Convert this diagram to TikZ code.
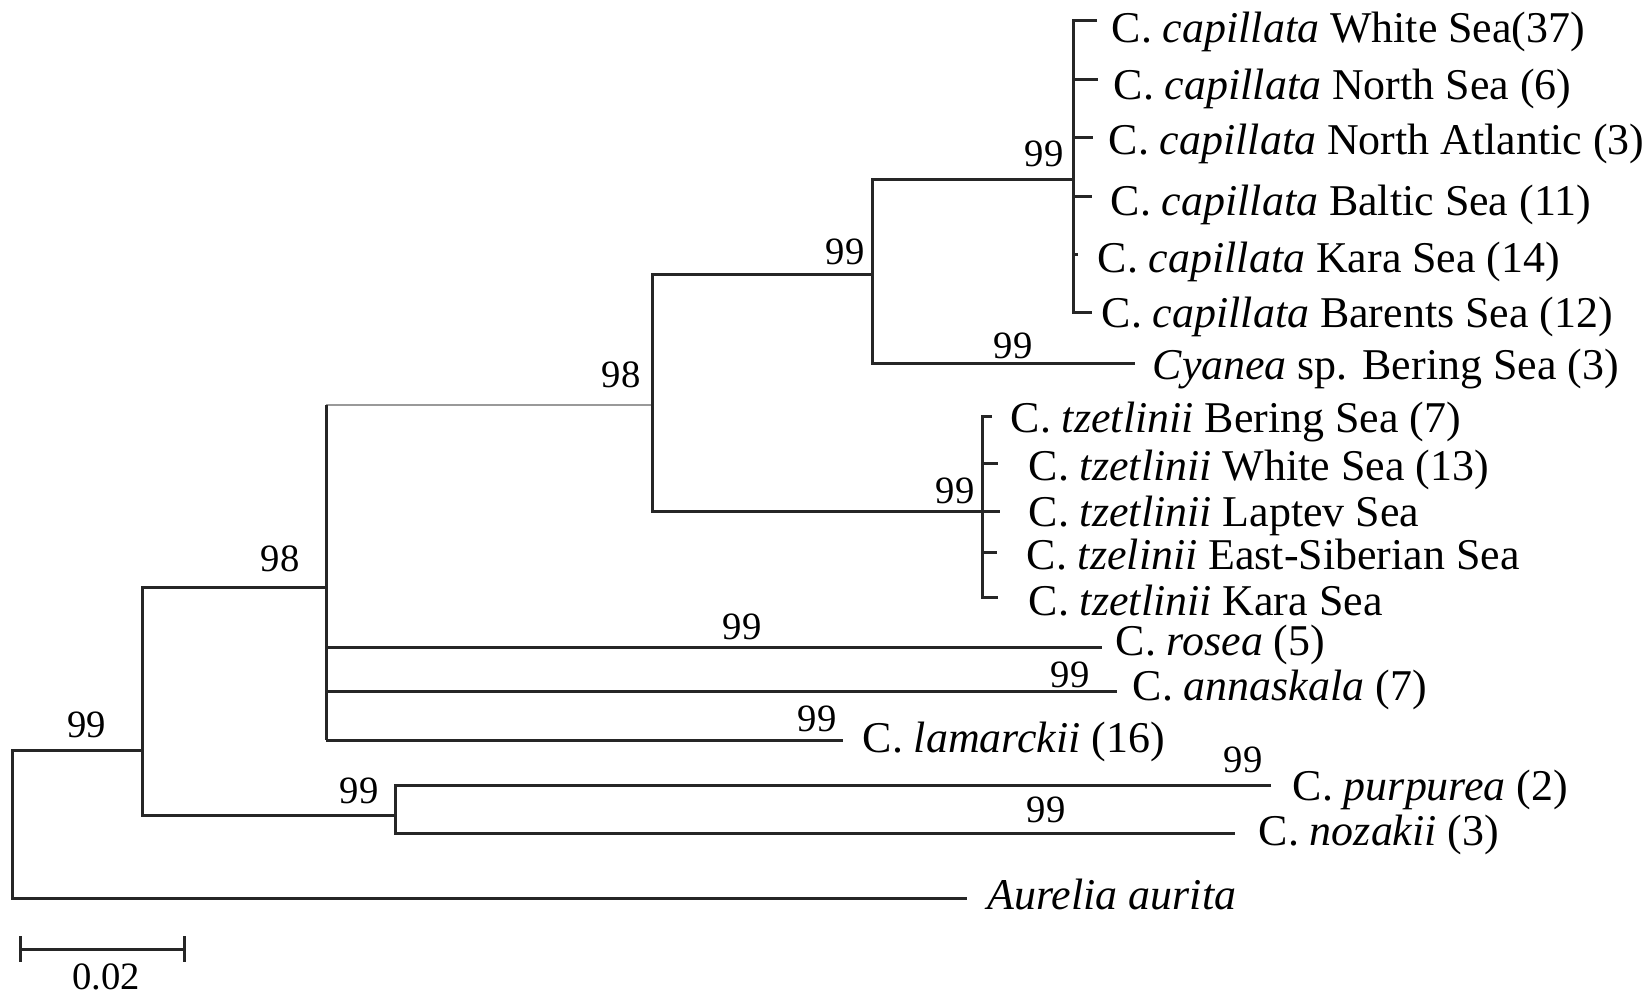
\documentclass[tikz,border=0pt]{standalone}
\usepackage{fontspec}
\setmainfont{Liberation Serif}
\usepackage{tikz}
\usetikzlibrary{positioning}

\begin{document}
\begin{tikzpicture}[x=0.1mm, y=-0.1mm,
	branch/.style={line width=0.3mm, draw=black!85},
	weak/.style={line width=0.18mm, draw=black!40},
	taxon/.style={anchor=base west, inner sep=0pt, font=\fontsize{12.5}{15}\selectfont},
	boot/.style={inner sep=0pt, font=\fontsize{11}{13}\selectfont}]
	
	\useasboundingbox (0,0) rectangle (1650,993);
	
	% internal nodes: x = position of the vertical bar,
	%                 y = where the parent branch comes in
	\coordinate (R)   at (12,824);
	\coordinate (A)   at (142,750);
	\coordinate (B)   at (326,588);
	\coordinate (P)   at (395,815);
	\coordinate (D)   at (652,405);
	\coordinate (C)   at (872,275);
	\coordinate (Cap) at (1073,180);
	\coordinate (Tz)  at (982,512);
	
	% tips
	\coordinate (Cap1) at (1097,21);
	\coordinate (Cap2) at (1098,80);
	\coordinate (Cap3) at (1093,138);
	\coordinate (Cap4) at (1092,197);
	\coordinate (Cap5) at (1078,255);
	\coordinate (Cap6) at (1092,313);
	\coordinate (Cy)   at (1135,364);
	\coordinate (Tz1)  at (992,417);
	\coordinate (Tz2)  at (998,464);
	\coordinate (Tz3)  at (1000,512);
	\coordinate (Tz4)  at (997,553);
	\coordinate (Tz5)  at (998,598);
	\coordinate (Ros)  at (1102,648);
	\coordinate (Ann)  at (1117,691);
	\coordinate (Lam)  at (843,740);
	\coordinate (Pur)  at (1271,785);
	\coordinate (Noz)  at (1235,833);
	\coordinate (Aur)  at (967,898);
	
	%%%%%%%%%%%%%%%%%%%%%%%%%%%%%%%%%%%%%%%%%%%%%%%%%%%%%%%%%%%%%%
	% branches
	\draw[branch] (A) -| (R) |- (Aur);
	\draw[branch] (B) -| (A) |- (P);
	
	\draw[weak]   (B |- D) -- (D);
	\draw[branch] (B |- D) -- (B |- Lam);
	\draw[branch] (B |- Ros) -- (Ros);
	\draw[branch] (B |- Ann) -- (Ann);
	\draw[branch] (B |- Lam) -- (Lam);
	
	\draw[branch] (C) -| (D) |- (Tz);
	\draw[branch] (Cap) -| (C) |- (Cy);
	
	\draw[branch] (Cap1) -| (Cap) |- (Cap6);
	\draw[branch] (Cap |- Cap2) -- (Cap2);
	\draw[branch] (Cap |- Cap3) -- (Cap3);
	\draw[branch] (Cap |- Cap4) -- (Cap4);
	\draw[branch] (Cap |- Cap5) -- (Cap5);
	
	\draw[branch] (Tz1) -| (Tz) |- (Tz5);
	\draw[branch] (Tz) -- (Tz3);
	\draw[branch] (Tz |- Tz2) -- (Tz2);
	\draw[branch] (Tz |- Tz4) -- (Tz4);
	
	\draw[branch] (Pur) -| (P) |- (Noz);
	
	%%%%%%%%%%%%%%%%%%%%%%%%%%%%%%%%%%%%%%%%%%%%%%%%%%%%%%%%%%%%%%
	% taxon names
	\node[taxon] (L-Cap1) at (1111,43)  {C. \textit{capillata} White Sea(37)};
	\node[taxon] (L-Cap2) at (1113,100) {C. \textit{capillata} North Sea (6)};
	\node[taxon] (L-Cap3) at (1108,155) {C. \textit{capillata} North Atlantic (3)};
	\node[taxon] (L-Cap4) at (1110,216) {C. \textit{capillata} Baltic Sea (11)};
	\node[taxon] (L-Cap5) at (1097,273) {C. \textit{capillata} Kara Sea (14)};
	\node[taxon] (L-Cap6) at (1101,328) {C. \textit{capillata} Barents Sea (12)};
	\node[taxon] (L-Cy)   at (1152,380) {\textit{Cyanea} sp. Bering Sea (3)};
	\node[taxon] (L-Tz1)  at (1010,433) {C. \textit{tzetlinii} Bering Sea (7)};
	\node[taxon] (L-Tz2)  at (1028,481) {C. \textit{tzetlinii} White Sea (13)};
	\node[taxon] (L-Tz3)  at (1028,527) {C. \textit{tzetlinii} Laptev Sea};
	\node[taxon] (L-Tz4)  at (1026,570) {C. \textit{tzelinii} East-Siberian Sea};
	\node[taxon] (L-Tz5)  at (1028,616) {C. \textit{tzetlinii} Kara Sea};
	\node[taxon] (L-Ros)  at (1115,656) {C. \textit{rosea} (5)};
	\node[taxon] (L-Ann)  at (1132,700) {C. \textit{annaskala} (7)};
	\node[taxon] (L-Lam)  at (862,752)  {C. \textit{lamarckii} (16)};
	\node[taxon] (L-Pur)  at (1292,800) {C. \textit{purpurea} (2)};
	\node[taxon] (L-Noz)  at (1258,845) {C. \textit{nozakii} (3)};
	\node[taxon] (L-Aur)  at (987,909)  {\textit{Aurelia aurita}};
	
	% bootstrap values
	\node[boot] (b-A)   at (87,725)   {99};
	\node[boot] (b-B)   at (280,559)  {98};
	\node[boot] (b-D)   at (621,375)  {98};
	\node[boot] (b-C)   at (845,252)  {99};
	\node[boot] (b-Cap) at (1044,154) {99};
	\node[boot] (b-Cy)  at (1013,346) {99};
	\node[boot] (b-Tz)  at (955,491)  {99};
	\node[boot] (b-Ros) at (742,627)  {99};
	\node[boot] (b-Ann) at (1070,675) {99};
	\node[boot] (b-Lam) at (817,719)  {99};
	\node[boot] (b-P)   at (359,791)  {99};
	\node[boot] (b-Pur) at (1243,760) {99};
	\node[boot] (b-Noz) at (1046,810) {99};
	
	%%%%%%%%%%%%%%%%%%%%%%%%%%%%%%%%%%%%%%%%%%%%%%%%%%%%%%%%%%%%%%
	% scale bar
	\coordinate (S0) at (20,949);
	\coordinate (S1) at (184,949);
	\draw[branch] (S0) -- (S1);
	\draw[branch] (S0) ++(0,-13) -- ++(0,26);
	\draw[branch] (S1) ++(0,-13) -- ++(0,26);
	\node[boot] (scale) at (106,977) {0.02};
	
\end{tikzpicture}
\end{document}
